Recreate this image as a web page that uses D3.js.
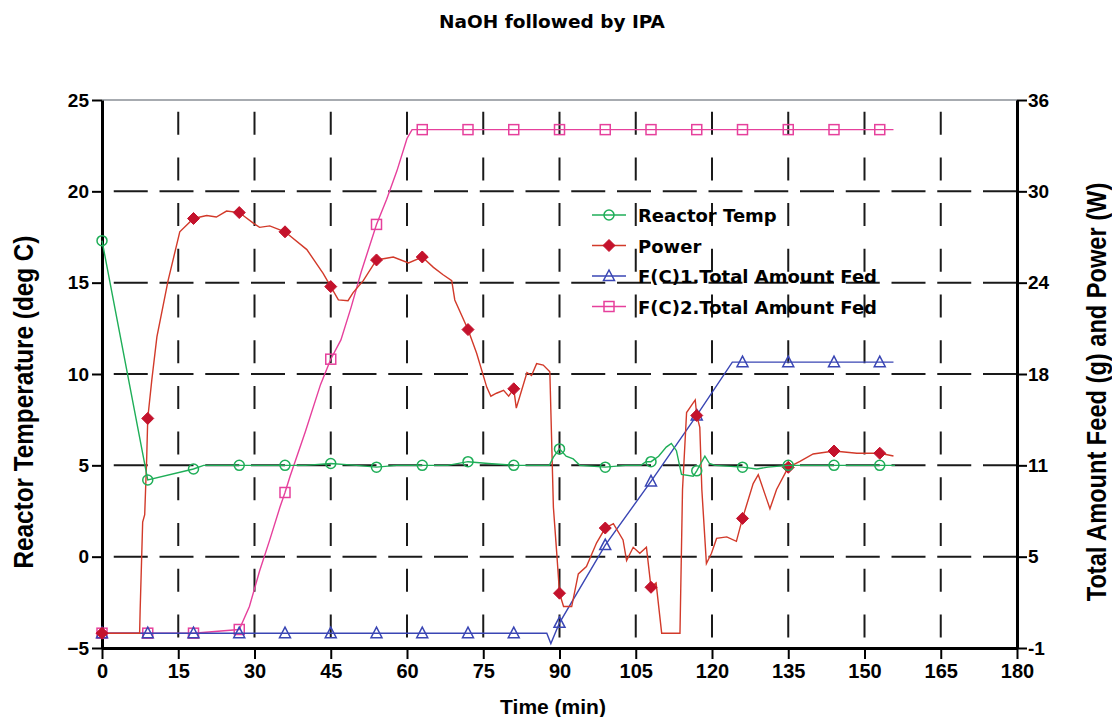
<!DOCTYPE html>
<html>
<head>
<meta charset="utf-8">
<script src="https://d3js.org/d3.v7.min.js"></script>
<style>
  body { margin: 0; background: #fff; }
  text { font-family: "Liberation Sans", Arial, sans-serif; font-weight: bold; fill: #000; }
  .wide { font-family: "DejaVu Sans", Verdana, sans-serif; }
</style>
</head>
<body>
<svg id="chart" width="1112" height="717"></svg>
<script>
// tick values
const timeTicks = [0, 15, 30, 45, 60, 75, 90, 105, 120, 135, 150, 165, 180];
const tempTicks = [-5, 0, 5, 10, 15, 20, 25];
const feedTicks = [-1, 5.1667, 11.3333, 17.5, 23.6667, 29.8333, 36];
const feedTickLabels = ["-1", "5", "11", "18", "24", "30", "36"];
const markerTimes = [0, 9, 18, 27, 36, 45, 54, 63, 72, 81, 90, 99, 108, 117, 126, 135, 144, 153];

// Reactor Temp (deg C, left axis) : [time, value]
const reactorTemp = [
  [0, 17.3], [9, 4.2], [18, 4.8], [20, 5.0], [27, 5.0], [36, 5.0], [40, 5.0], [45, 5.1],
  [50, 5.0], [54, 4.9], [58, 5.0], [63, 5.0], [68, 5.0], [72, 5.2], [76, 5.1], [81, 5.0],
  [86, 5.0], [88, 5.0], [88.8, 5.45], [90, 5.9], [91.3, 5.5], [92.7, 5.35], [94, 5.0],
  [99, 4.9], [103, 5.0], [106, 5.0], [107, 5.2], [108, 5.2], [109.5, 5.5], [111, 6.0],
  [112, 6.2], [113, 5.8], [114, 4.5], [116.3, 4.4], [117, 4.7], [118.6, 5.5], [119.5, 5.1],
  [120.6, 5.0], [126, 4.9], [128.8, 4.8], [131, 4.9], [135, 5.0], [144, 5.0], [153, 5.0], [156, 5.0]
];

// Power (W, right axis)
const power = [
  [0, 0], [7.4, 0], [7.5, 1.5], [8.0, 7.5], [8.4, 8.0], [8.8, 11.9], [9, 14.5], [9.8, 17.1],
  [10.8, 20], [13, 23.8], [15.3, 27.1], [18, 28.0], [20.6, 28.2], [22.5, 28.1], [24.5, 28.5],
  [27, 28.4], [29.7, 27.7], [31, 27.4], [33, 27.5], [36, 27.1], [40.3, 25.9], [43.5, 24.3],
  [45, 23.4], [46.5, 22.5], [48.4, 22.45], [49.4, 23], [51.4, 23.8], [54, 25.2], [57.3, 25.4],
  [60.3, 25.0], [63, 25.4], [65.2, 24.7], [67.1, 24.2], [68.8, 23.8], [69.4, 22.5], [72, 20.5],
  [73.7, 18.9], [75.7, 16.6], [76.5, 16.0], [77.6, 16.2], [79, 16.4], [80, 16.0], [81, 16.5],
  [81.5, 15.2], [82.2, 16.0], [83.6, 17.6], [84.5, 17.4], [85.5, 18.2], [86.8, 18.1],
  [88.1, 17.65], [88.8, 8.5], [89.5, 5.2], [90, 2.7], [90.8, 1.8], [92.4, 1.8], [93.7, 4.0],
  [95.3, 4.5], [97.3, 6.1], [99, 7.1], [100.6, 7.4], [102.5, 6.3], [103.2, 4.9], [104.5, 5.8],
  [105.8, 5.4], [107.1, 5.8], [108, 3.1], [109, 3.4], [110.1, 0], [113.7, 0], [114.2, 9.7],
  [115, 14.9], [116.7, 15.75], [117, 14.7], [117.6, 13.9], [118, 9.7], [118.9, 4.7],
  [119.9, 5.4], [120.9, 6.4], [122.9, 6.5], [124.8, 6.2], [126, 7.75], [128.1, 10.1],
  [129.1, 10.7], [130.8, 9.0], [131.4, 8.4], [132.7, 9.7], [135, 11.2], [137.3, 11.6],
  [139.9, 12.1], [144, 12.3], [148.5, 12.15], [153, 12.15], [155.7, 11.96]
];

// F(C)1.Total Amount Fed (g, right axis)
const feed1 = [
  [0, 0], [9, 0], [18, 0], [27, 0], [36, 0], [45, 0], [54, 0], [63, 0], [72, 0], [81, 0],
  [87.5, 0], [88.3, -0.7], [90, 0.7], [99, 5.95], [108, 10.25], [117, 14.7], [124, 18.3],
  [126, 18.3], [135, 18.3], [144, 18.3], [153, 18.3], [155.7, 18.3]
];

// F(C)2.Total Amount Fed (g, right axis)
const feed2 = [
  [0, 0], [9, 0], [18, 0], [27, 0.25], [29, 1.8], [31, 4.2], [33, 6.3], [35, 8.5], [36, 9.5],
  [37, 10.6], [40, 13.6], [43, 16.8], [45, 18.5], [47, 19.8], [49, 22], [51, 24.4], [54, 27.6],
  [56, 29.3], [58, 31.2], [60, 33.4], [61, 34], [63, 34], [72, 34], [81, 34], [90, 34], [99, 34],
  [108, 34], [117, 34], [126, 34], [135, 34], [144, 34], [153, 34], [155.7, 34]
];

const legendNames = ["Reactor Temp", "Power", "F(C)1.Total Amount Fed", "F(C)2.Total Amount Fed"];

const green = "#1fae58", red = "#d23a2a", redMark = "#c4122c", blue = "#3a46b4", pink = "#e6409c";

const plotL = 102, plotR = 1017, plotT = 100, plotB = 648;
const svg = d3.select("#chart");

const x = d3.scaleLinear().domain([0, 180]).range([plotL, plotR]);
const yL = d3.scaleLinear().domain([-5, 25]).range([plotB, plotT]);
const yR = d3.scaleLinear().domain([-1, 36]).range([plotB, plotT]);

// title
svg.append("text").attr("class", "wide").attr("x", 552).attr("y", 28).attr("text-anchor", "middle")
  .style("font-size", "18.5px").text("NaOH followed by IPA");

// grid
const grid = svg.append("g").attr("stroke", "#1a1a1a").attr("stroke-width", 2);
grid.selectAll("line.v").data(timeTicks.slice(1, -1)).enter().append("line")
  .attr("x1", d => x(d)).attr("x2", d => x(d)).attr("y1", plotT).attr("y2", plotB)
  .attr("stroke-dasharray", "23,22.7").attr("stroke-dashoffset", 34);
grid.selectAll("line.h").data(tempTicks.slice(1, -1)).enter().append("line")
  .attr("x1", plotL).attr("x2", plotR).attr("y1", d => yL(d)).attr("y2", d => yL(d))
  .attr("stroke-dasharray", "34,11.75").attr("stroke-dashoffset", 34);

// top frame
svg.append("line").attr("x1", plotL).attr("x2", plotR).attr("y1", plotT).attr("y2", plotT)
  .attr("stroke", "#8a8f96").attr("stroke-width", 1.5);

// axes
function styleAxis(size) {
  return g => {
    g.select(".domain").attr("stroke", "#000").attr("stroke-width", 3);
    g.selectAll(".tick line").attr("stroke", "#000").attr("stroke-width", 2);
    g.selectAll(".tick text").style("font-size", size).style("font-family", "'Liberation Sans', Arial, sans-serif")
      .style("font-weight", "bold").attr("fill", "#000");
  };
}
svg.append("g").attr("transform", `translate(${plotL},0)`)
  .call(d3.axisLeft(yL).tickValues(tempTicks).tickSize(10).tickSizeOuter(0).tickPadding(3))
  .call(styleAxis("19px"));
svg.append("g").attr("transform", `translate(${plotR},0)`)
  .call(d3.axisRight(yR).tickValues(feedTicks).tickSize(10).tickSizeOuter(0).tickPadding(1)
    .tickFormat((d, i) => feedTickLabels[i]))
  .call(styleAxis("19px"));
svg.append("g").attr("transform", `translate(0,${plotB})`)
  .call(d3.axisBottom(x).tickValues(timeTicks).tickSize(11).tickSizeOuter(0).tickPadding(5))
  .call(styleAxis("20px"));

// axis titles
svg.append("text").attr("x", 553).attr("y", 714).attr("text-anchor", "middle")
  .style("font-size", "21px").text("Time (min)");
svg.append("text").attr("transform", "translate(33,402) rotate(-90) scale(0.9,1)").attr("text-anchor", "middle")
  .style("font-size", "27px").text("Reactor Temperature (deg C)");
svg.append("text").attr("transform", "translate(1106,392) rotate(-90) scale(0.875,1)").attr("text-anchor", "middle")
  .style("font-size", "27px").text("Total Amount Feed (g) and Power (W)");

// markers
const diamond = "M0,-6L6,0L0,6L-6,0Z";
const triangle = "M0,-6L5.5,4.5L-5.5,4.5Z";
function drawMarker(g, kind, color) {
  if (kind === "circle") g.append("circle").attr("r", 5).attr("fill", "none").attr("stroke", color).attr("stroke-width", 1.5);
  if (kind === "diamond") g.append("path").attr("d", diamond).attr("fill", color).attr("stroke", color);
  if (kind === "triangle") g.append("path").attr("d", triangle).attr("fill", "none").attr("stroke", color).attr("stroke-width", 1.5);
  if (kind === "square") g.append("rect").attr("x", -5).attr("y", -5).attr("width", 10).attr("height", 10)
    .attr("fill", "none").attr("stroke", color).attr("stroke-width", 1.5);
}

const series = [
  { data: reactorTemp, y: yL, color: green, mark: "circle", markColor: green },
  { data: power, y: yR, color: red, mark: "diamond", markColor: redMark },
  { data: feed1, y: yR, color: blue, mark: "triangle", markColor: blue },
  { data: feed2, y: yR, color: pink, mark: "square", markColor: pink }
];

// draw in reverse so temperature ends on top
series.slice().reverse().forEach(s => {
  const line = d3.line().x(d => x(d[0])).y(d => s.y(d[1]));
  svg.append("path").datum(s.data).attr("d", line).attr("fill", "none")
    .attr("stroke", s.color).attr("stroke-width", 1.4);
  s.data.filter(d => markerTimes.includes(d[0])).forEach(d => {
    const g = svg.append("g").attr("transform", `translate(${x(d[0])},${s.y(d[1])})`);
    drawMarker(g, s.mark, s.markColor);
  });
});

// legend
const legend = svg.append("g").attr("transform", "translate(592,215)");
series.forEach((s, i) => {
  const row = legend.append("g").attr("transform", `translate(0,${i * 30.5})`);
  row.append("line").attr("x1", 0).attr("x2", 34).attr("stroke", s.color).attr("stroke-width", 1.4);
  drawMarker(row.append("g").attr("transform", "translate(17,0)"), s.mark, s.markColor);
  row.append("text").attr("class", "wide").attr("x", 46).attr("y", 7).style("font-size", "18px").text(legendNames[i]);
});
</script>
</body>
</html>
